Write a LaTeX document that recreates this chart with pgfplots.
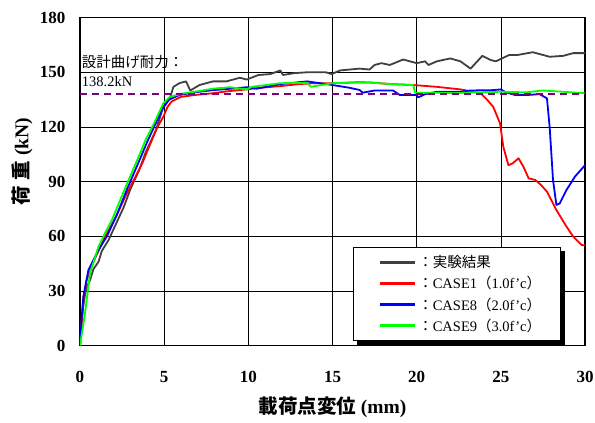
\documentclass[border=0pt]{standalone}
\usepackage{pgfplots}
\pgfplotsset{compat=1.18}
\usepackage{fontspec}
\setmainfont{Liberation Serif}
\newfontfamily\jp{Noto Sans CJK JP}
\definecolor{expgray}{HTML}{404040}
\begin{document}
\begin{tikzpicture}
\begin{axis}[
  width=505pt, height=328pt, scale only axis,
  xmin=0, xmax=30, ymin=0, ymax=180,
  xtick={0,5,...,30}, ytick={0,30,...,180},
  grid=major, major grid style={black, line width=0.6pt},
  major tick length=0pt,
  axis line style={black, line width=1.4pt},
  tick label style={font=\fontsize{17}{17}\selectfont\bfseries},
  /pgf/number format/assume math mode=true,
  xticklabel style={yshift=-22pt},
  yticklabel style={xshift=-11pt},
  xlabel={{\jp\bfseries 載荷点変位} \textbf{(mm)}},
  ylabel={{\jp\bfseries 荷\hspace{6pt}重} \textbf{(kN)}},
  label style={font=\fontsize{19.5}{19.5}\selectfont},
  xlabel style={at={(axis description cs:0.5,0)}, anchor=center, yshift=-62pt},
  ylabel style={at={([xshift=-58pt]axis description cs:0,0.56)}, anchor=center},
  legend style={name=leg, at={(axis cs:16.2,54)}, anchor=north west, draw=black, line width=0.8pt, fill=white,
    font=\fontsize{14.5}{14.5}\selectfont, row sep=3.2pt, inner xsep=17pt, inner ysep=6pt},
  legend cell align=left,
  legend image code/.code={\path[draw=none, fill=none] (0pt,0pt) -- (45pt,0pt); \draw[#1, line width=2.4pt] (10pt,0pt) -- (45pt,0pt);},
  every axis plot/.append style={line width=1.8pt, line join=round},
  clip=true,
]
\addplot[expgray] coordinates {
(0,0) (0.1,12) (0.2,22) (0.3,28) (0.4,32) (0.6,36) (0.8,42) (1.1,46) (1.3,52) (1.7,58) (2.1,66) (2.6,76) (3.0,86) (3.5,96) (3.9,106) (4.5,118) (4.95,131) (5.35,136) (5.55,142) (5.9,144) (6.3,145) (6.55,140) (7.1,143) (7.9,145) (8.7,145) (9.5,147) (9.9,146) (10.6,148.5) (11.3,149) (11.9,151) (12.06,148.5) (12.7,149.5) (13.5,150) (14.6,150) (14.95,149) (15.45,151) (16.6,152) (17.2,151.5) (17.5,154) (17.9,155) (18.4,154) (19.2,157) (20.0,155) (20.5,156) (20.7,154) (21.2,156) (22.0,157.6) (22.6,156) (23.2,152) (23.9,159) (24.4,156.7) (24.7,156) (25.5,159.5) (26.0,159.5) (26.9,161) (27.9,158.5) (28.7,159) (29.3,160.5) (30,160.5)
};
\addlegendentry{{\jp ：実験結果}}
\addplot[red] coordinates {
(0,0) (0.1,14) (0.2,26) (0.4,36) (0.8,46) (1.1,52) (1.5,60) (2.1,70) (2.7,82) (3.2,91) (3.7,100) (4.1,109) (4.55,119) (4.95,125.6) (5.2,131) (5.45,134) (6.0,136.5) (6.8,137.5) (7.9,138.5) (8.7,139.5) (9.9,140.6) (10.7,141.5) (11.9,142.4) (13.0,143.5) (13.9,144) (15.0,144) (16.5,144.5) (17.2,144.4) (18.5,143.5) (19.8,143) (21.2,142) (22.6,140.6) (23.8,138.5) (24.2,134.8) (24.55,131) (24.95,122) (25.15,109) (25.45,99) (25.7,100) (26.05,102.8) (26.35,98) (26.65,91.8) (27.05,90.9) (27.4,88) (27.74,84.5) (28.3,74.4) (28.9,65.3) (29.3,59.8) (29.8,55.2) (30,55)
};
\addlegendentry{{\jp ：}CASE1{\jp （}1.0f'c{\jp ）}}
\addplot[blue] coordinates {
(0,0) (0.1,15) (0.2,27) (0.5,41.5) (1.1,52.5) (1.6,60) (2.2,72) (2.8,86) (3.5,101) (4.0,112) (4.5,122) (4.9,130) (5.3,135) (5.9,137.5) (6.8,139) (7.9,140.2) (9.0,141) (9.9,141.8) (10.5,141) (11.9,143.5) (13.5,145) (15.0,143) (16.0,141.5) (16.6,140.3) (16.8,138.8) (17.5,140) (18.6,140) (19.0,137.5) (20.0,137.5) (20.1,136.2) (20.5,138) (21.2,139.3) (22.6,139.3) (23.2,140) (24.55,140.2) (25.0,140.6) (25.3,139) (25.85,137.5) (26.55,137.5) (27.3,138) (27.74,135.7) (27.9,120) (28.1,90.9) (28.3,77.2) (28.5,78) (28.9,85.4) (29.4,92.7) (30,99)
};
\addlegendentry{{\jp ：}CASE8{\jp （}2.0f'c{\jp ）}}
\addplot[green] coordinates {
(0,0) (0.3,18) (0.6,40) (1.1,54.3) (1.5,62) (1.9,69) (2.3,78) (2.8,89) (3.5,104) (3.9,113) (4.4,122) (4.95,133) (5.35,136.6) (6.2,138.5) (6.8,139.3) (7.9,141) (8.9,141.8) (9.9,140.6) (10.2,142) (11.9,144) (13.5,144.2) (13.7,142) (15.0,144) (16.5,144.4) (17.2,144.4) (18.5,143.5) (19.8,143) (19.9,138.8) (21.0,138.8) (22.2,138.5) (23.5,139) (25.1,139.3) (26.5,139) (27.5,140) (28.7,139.3) (30,138.5)
};
\addlegendentry{{\jp ：}CASE9{\jp （}3.0f'c{\jp ）}}
\addplot[color={rgb,255:red,128;green,0;blue,128}, line width=1.6pt, dash pattern=on 7pt off 5pt, forget plot] coordinates {(0,138.2) (30,138.2)};
\node[anchor=base west, font=\fontsize{14.5}{14.5}\selectfont\jp, inner sep=0pt] at (axis cs:0.1,152.5) {設計曲げ耐力：};
\node[anchor=base west, font=\fontsize{14.5}{14.5}\selectfont, inner sep=0pt] at (axis cs:0.1,142) {138.2kN};
\end{axis}
\fill[black] ([shift={(0pt,-4pt)}]leg.north east) rectangle ([shift={(4pt,-4pt)}]leg.south east);
\fill[black] ([shift={(4pt,0pt)}]leg.south west) rectangle ([shift={(4pt,-4pt)}]leg.south east);
\pgfresetboundingbox
\path[use as bounding box] ([shift={(-80pt,-77.3pt)}]current axis.south west) rectangle ([shift={(10pt,17.6pt)}]current axis.north east);
\end{tikzpicture}
\end{document}
